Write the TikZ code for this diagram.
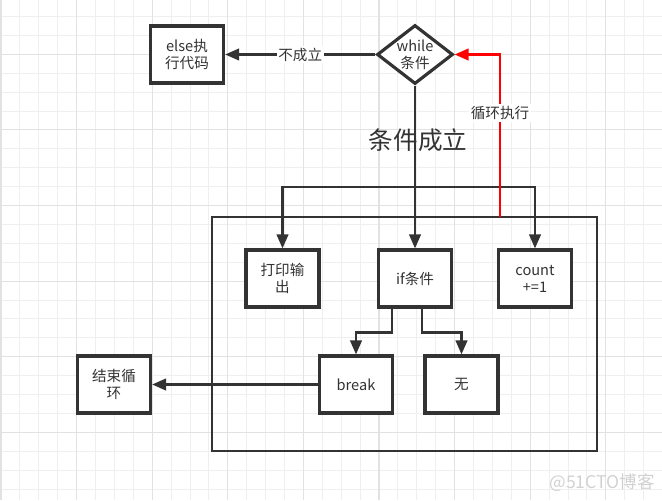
\documentclass[tikz,border=0pt]{standalone}
\usepackage{fontspec}
\setmainfont{Noto Sans CJK SC}
\usetikzlibrary{arrows.meta,shapes.geometric,calc}
\definecolor{ink}{HTML}{333333}
\definecolor{gridminor}{HTML}{EFEFEF}
\definecolor{gridmajor}{HTML}{E2E2E2}
\definecolor{loopred}{HTML}{FF0000}

\begin{document}
\begin{tikzpicture}[->,>={Triangle[length=0.28cm,width=0.23cm]},x=0.02cm,y=-0.02cm,
                    line width=1.4pt,color=ink,
                    font=\fontsize{8.3}{9.6}\selectfont]
  \tikzstyle{box}=[rectangle,draw=ink,line width=1.8pt,fill=white,align=center,
                   minimum width=1.46cm,minimum height=1.14cm,inner sep=1pt]
  \tikzstyle{cond}=[diamond,draw=ink,line width=1.8pt,fill=white,align=center,
                    aspect=1.3,inner sep=0pt,minimum width=1.52cm,minimum height=1.18cm]
  \tikzstyle{gridline}=[-,line width=0.5pt,draw=gridminor]
  \tikzstyle{gridbold}=[-,line width=0.6pt,draw=gridmajor]
  \tikzstyle{midlabel}=[fill=white,inner sep=1pt,text=ink]

  \useasboundingbox (0,0) rectangle (662,500);
  % background grid
  \foreach \i in {0,...,35} \draw[gridline] ({1+18.9*\i},0) -- ({1+18.9*\i},500);
  \foreach \i in {1,...,27} \draw[gridline] (0,{-2.4+18.9*\i}) -- (662,{-2.4+18.9*\i});
  \foreach \i in {0,4,...,32} \draw[gridbold] ({1+18.9*\i},0) -- ({1+18.9*\i},500);
  \foreach \i in {3,7,...,27} \draw[gridbold] (0,{-2.4+18.9*\i}) -- (662,{-2.4+18.9*\i});

  \node[box] (E) at (187,54.5) {else执\\行代码};
  \node[cond] (W) at (415,54.5) {while\\条件};
  \node[box] (P) at (282.5,278.5) {打印输\\出};
  \node[box] (I) at (415,278.5) {if条件};
  \node[box] (C) at (535,278.5) {count\\+=1};
  \node[box] (B) at (356,384.5) {break};
  \node[box] (N) at (461.5,384.5) {无};
  \node[box] (F) at (114,384.5) {结束循\\环};
  \node[font=\fontsize{14}{16}\selectfont] (T) at (418,140) {条件成立};
  \node[text=black!18,font=\fontsize{10}{12}\selectfont] (M) at (602,483) {@51CTO博客};

  \coordinate (J) at (415,187);
  \coordinate (R) at (500,217);

  % loop body
  \draw[-] (212,217) rectangle (597,451);

  \path (W) edge node[midlabel] {不成立} (E);
  \draw[-] (W) -- (J);
  \draw (J) -- (I);
  \draw (J) -| (P);
  \draw (J) -| (C);
  \draw[draw=loopred] (R) |- node[midlabel,pos=0.32] {循环执行} (W);
  \draw ($(I.south)+(-23,0)$) -- ++(0,24) -| (B);
  \draw ($(I.south)+(7,0)$) -- ++(0,24) -| (N);
  \draw (B) -- (F);
\end{tikzpicture}
\end{document}
